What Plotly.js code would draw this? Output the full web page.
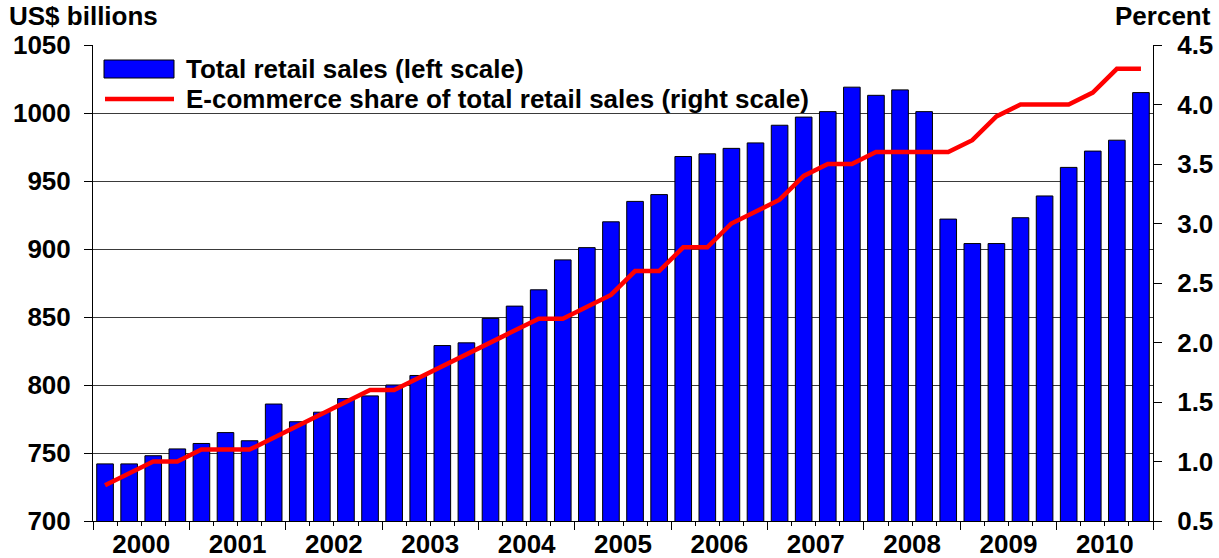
<!DOCTYPE html>
<html>
<head>
<meta charset="utf-8">
<script src="https://cdn.plot.ly/plotly-3.0.1.min.js"></script>
<style>html,body{margin:0;padding:0;background:#fff;}#chart{width:1219px;height:558px;}</style>
</head>
<body>
<div id="chart"></div>
<script>
// Year tick labels and quarterly categories
const years = [2000, 2001, 2002, 2003, 2004, 2005, 2006, 2007, 2008, 2009, 2010];
const quarters = ["Q1", "Q2", "Q3", "Q4"];
// Total retail sales, US$ billions (left scale)
const retailSales = [742, 742, 748, 753, 757, 765, 759, 786, 773, 780, 790, 792,
  800, 807, 829, 831, 849, 858, 870, 892, 901, 920, 935, 940,
  968, 970, 974, 978, 991, 997, 1001, 1019, 1013, 1017, 1001, 922,
  904, 904, 923, 939, 960, 972, 980, 1015];
// E-commerce share of total retail sales, percent (right scale)
const ecomShare = [0.8, 0.9, 1.0, 1.0, 1.1, 1.1, 1.1, 1.2, 1.3, 1.4, 1.5, 1.6,
  1.6, 1.7, 1.8, 1.9, 2.0, 2.1, 2.2, 2.2, 2.3, 2.4, 2.6, 2.6,
  2.8, 2.8, 3.0, 3.1, 3.2, 3.4, 3.5, 3.5, 3.6, 3.6, 3.6, 3.6,
  3.7, 3.9, 4.0, 4.0, 4.0, 4.1, 4.3, 4.3];

// Build quarter positions on a continuous year axis
const xPos = [], xLabels = [];
years.forEach(y => quarters.forEach((q, qi) => { xPos.push(y + (qi + 0.5) / 4); xLabels.push(y + " " + q); }));
const yearBounds = years.concat([years[years.length - 1] + 1]);
const yearCenters = years.map(y => y + 0.5);

const W = 1219, H = 558, ML = 93, MR = 66, MT = 45, MB = 37;
const PW = W - ML - MR, PH = H - MT - MB;
const px = v => (v - ML) / PW;
const py = v => (H - MB - v) / PH;

const FONT = "Arial, 'Liberation Sans', sans-serif";
const bold = (s) => ({family: FONT, size: s, color: "#000", weight: "bold"});
const FS = 26;

const traces = [
  {type: "bar", x: xPos, y: retailSales, hovertext: xLabels, hoverinfo: "text+y",
   marker: {color: "#0000FF", line: {color: "#000", width: 1}},
   name: "Total retail sales (left scale)", xaxis: "x", yaxis: "y"},
  {type: "scatter", mode: "lines", x: xPos, y: ecomShare, hovertext: xLabels, hoverinfo: "text+y",
   line: {color: "#FF0000", width: 4.5},
   name: "E-commerce share of total retail sales (right scale)", xaxis: "x2", yaxis: "y2"}
];

const range = [yearBounds[0], yearBounds[yearBounds.length - 1]];

const layout = {
  width: W, height: H,
  margin: {l: ML, r: MR, t: MT, b: MB, pad: 0},
  paper_bgcolor: "#fff", plot_bgcolor: "#fff",
  showlegend: false,
  bargap: 0.31,
  font: bold(FS),
  xaxis: {
    range: range, tickmode: "array", tickvals: yearBounds, showticklabels: false,
    ticks: "outside", ticklen: 8, tickwidth: 1, tickcolor: "#000",
    minor: {tickmode: "linear", tick0: yearBounds[0], dtick: 0.25, ticks: "outside", ticklen: 4, tickwidth: 1, tickcolor: "#000", showgrid: false},
    showline: true, linecolor: "#000", linewidth: 1, showgrid: false, zeroline: false, fixedrange: true
  },
  xaxis2: {
    overlaying: "x", anchor: "y", side: "bottom", range: range,
    tickmode: "array", tickvals: yearCenters, ticktext: years.map(String),
    ticks: "", showline: false, showgrid: false, zeroline: false,
    tickfont: bold(FS), ticklabelstandoff: 5, fixedrange: true
  },
  yaxis: {
    range: [700, 1050], tick0: 700, dtick: 50, tickmode: "linear",
    ticks: "outside", ticklen: 8, tickwidth: 1, tickcolor: "#000",
    showgrid: true, gridcolor: "#3a3a3a", gridwidth: 1,
    showline: true, linecolor: "#000", linewidth: 1, zeroline: false,
    tickfont: bold(FS), ticklabelstandoff: 8, fixedrange: true
  },
  yaxis2: {
    overlaying: "y", side: "right", anchor: "x",
    range: [0.5, 4.5], tick0: 0.5, dtick: 0.5, tickmode: "linear", tickformat: ".1f",
    ticks: "outside", ticklen: 8, tickwidth: 1, tickcolor: "#000",
    showgrid: false, showline: true, linecolor: "#000", linewidth: 1, zeroline: false,
    tickfont: bold(FS), ticklabelstandoff: 10, fixedrange: true
  },
  shapes: [
    {type: "rect", xref: "paper", yref: "paper", x0: px(104), x1: px(174), y0: py(78), y1: py(60),
     fillcolor: "#0000FF", line: {color: "#000", width: 1}},
    {type: "line", xref: "paper", yref: "paper", x0: px(105), x1: px(174), y0: py(99), y1: py(99),
     line: {color: "#FF0000", width: 4.5}}
  ],
  annotations: [
    {text: traces[0].name, xref: "paper", yref: "paper", x: px(184), y: py(69), xanchor: "left", yanchor: "middle", showarrow: false, font: bold(FS)},
    {text: traces[1].name, xref: "paper", yref: "paper", x: px(184), y: py(99), xanchor: "left", yanchor: "middle", showarrow: false, font: bold(FS)},
    {text: "US$ billions", xref: "paper", yref: "paper", x: px(7), y: py(16), xanchor: "left", yanchor: "middle", showarrow: false, font: bold(FS)},
    {text: "Percent", xref: "paper", yref: "paper", x: px(1213), y: py(16), xanchor: "right", yanchor: "middle", showarrow: false, font: bold(FS)}
  ]
};

Plotly.newPlot("chart", traces, layout, {displayModeBar: false, staticPlot: true});
</script>
</body>
</html>
